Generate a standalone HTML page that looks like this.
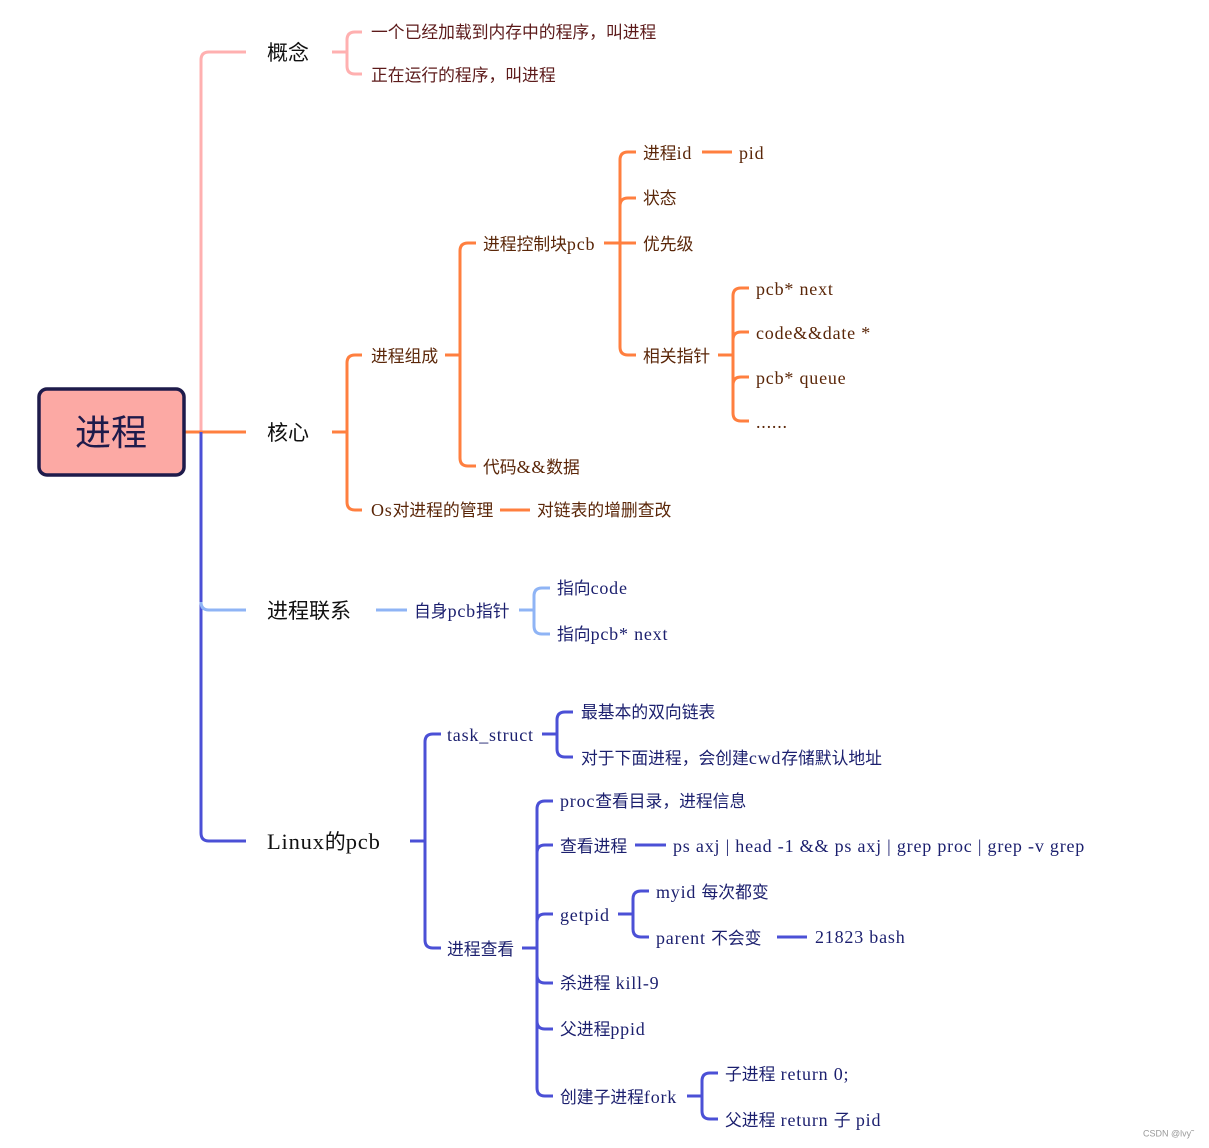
<!DOCTYPE html>
<html><head><meta charset="utf-8"><style>
html,body{margin:0;padding:0;background:#fff;width:1209px;height:1148px;overflow:hidden}
svg text{font-family:"Liberation Serif","Noto Sans CJK SC",serif;dominant-baseline:middle}
.l{font-size:18px;letter-spacing:0.8px}
.L{font-size:22.5px;letter-spacing:0.8px}
</style></head><body>
<svg width="1209" height="1148" viewBox="0 0 1209 1148" xmlns="http://www.w3.org/2000/svg">
<g fill="none" stroke-width="3" stroke-linecap="butt">
<path d="M246,52 H209 Q201,52 201,60 V432" stroke="#ffb0b0"/>
<path d="M185,432 H246" stroke="#ff7f3f"/>
<path d="M201,432 V833 Q201,841 209,841 H246" stroke="#4b50d6"/>
<path d="M201,602 Q201,610 209,610 H246" stroke="#8fb4f5"/>
<g stroke="#ffb0b0"><path d="M332,52 H347"/><path d="M362,32 H355 Q347,32 347,40 V66 Q347,74 355,74 H362"/></g>
<g stroke="#ff7f3f">
<path d="M332,432 H347"/><path d="M362,355 H355 Q347,355 347,363 V502 Q347,510 355,510 H362"/>
<path d="M500,510 H530"/>
<path d="M445,355 H460"/><path d="M476,243 H468 Q460,243 460,251 V458 Q460,466 468,466 H476"/>
<path d="M604,243 H636"/><path d="M636,152 H628 Q620,152 620,160 V347 Q620,355 628,355 H636"/>
<path d="M636,198 H628 Q620,198 620,206"/>
<path d="M702,152 H732"/>
<path d="M718,355 H733"/><path d="M749,288 H741 Q733,288 733,296 V413 Q733,421 741,421 H749"/>
<path d="M749,332 H741 Q733,332 733,340"/><path d="M749,377 H741 Q733,377 733,385"/>
</g>
<g stroke="#8fb4f5">
<path d="M376,610 H407"/><path d="M519,610 H534"/>
<path d="M550,588 H542 Q534,588 534,596 V626 Q534,634 542,634 H550"/>
</g>
<g stroke="#4b50d6">
<path d="M410,841 H425"/><path d="M441,734 H433 Q425,734 425,742 V940 Q425,948 433,948 H441"/>
<path d="M542,734 H557"/><path d="M573,712 H565 Q557,712 557,720 V749 Q557,757 565,757 H573"/>
<path d="M522,948 H537"/><path d="M553,801 H545 Q537,801 537,809 V1088 Q537,1096 545,1096 H553"/>
<path d="M553,845 H545 Q537,845 537,853"/><path d="M553,914 H545 Q537,914 537,922"/>
<path d="M553,983 H545 Q537,983 537,975"/><path d="M553,1029 H545 Q537,1029 537,1021"/>
<path d="M635,845 H666"/>
<path d="M618,914 H633"/><path d="M649,891 H641 Q633,891 633,899 V929 Q633,937 641,937 H649"/>
<path d="M777,937 H807"/>
<path d="M687,1096 H702"/><path d="M718,1073 H710 Q702,1073 702,1081 V1111 Q702,1119 710,1119 H718"/>
</g>
</g>
<rect x="39" y="389" width="145" height="86" rx="8" fill="#fca9a4" stroke="#1e1b4b" stroke-width="3.5"/>
<text x="111" y="435" font-size="36" fill="#1e1b4b" text-anchor="middle" style="font-family:'Noto Sans CJK SC',sans-serif">进程</text>
<g font-size="21" fill="#111">
<text x="267" y="55">概念</text><text x="267" y="435">核心</text><text x="267" y="613">进程联系</text><text x="267" y="844"><tspan class="L">Linux</tspan>的<tspan class="L">pcb</tspan></text>
</g>
<g font-size="16.8" fill="#5c1a1a">
<text x="371" y="34">一个已经加载到内存中的程序，叫进程</text>
<text x="371" y="77">正在运行的程序，叫进程</text>
</g>
<g font-size="16.8" fill="#5a2608">
<text x="371" y="358">进程组成</text><text x="371" y="512"><tspan class="l">Os</tspan>对进程的管理</text><text x="537" y="512">对链表的增删查改</text>
<text x="483" y="246">进程控制块<tspan class="l">pcb</tspan></text><text x="483" y="469">代码<tspan class="l">&amp;&amp;</tspan>数据</text>
<text x="643" y="155">进程<tspan class="l">id</tspan></text><text x="739" y="155" class="l">pid</text>
<text x="643" y="200">状态</text><text x="643" y="246">优先级</text><text x="643" y="358">相关指针</text>
<text x="756" y="291" class="l">pcb* next</text><text x="756" y="335" class="l">code&amp;&amp;date *</text><text x="756" y="380" class="l">pcb* queue</text><text x="756" y="424" class="l">......</text>
</g>
<g font-size="16.8" fill="#1b1f6e">
<text x="414" y="613">自身<tspan class="l">pcb</tspan>指针</text><text x="557" y="590">指向<tspan class="l">code</tspan></text><text x="557" y="636">指向<tspan class="l">pcb* next</tspan></text>
<text x="447" y="737" class="l">task_struct</text><text x="447" y="951">进程查看</text>
<text x="581" y="714">最基本的双向链表</text><text x="581" y="760">对于下面进程，会创建<tspan class="l">cwd</tspan>存储默认地址</text>
<text x="560" y="803"><tspan class="l">proc</tspan>查看目录，进程信息</text>
<text x="560" y="848">查看进程</text><text x="673" y="848" class="l">ps axj | head -1 &amp;&amp; ps axj | grep proc | grep -v grep</text>
<text x="560" y="917" class="l">getpid</text><text x="656" y="894"><tspan class="l">myid </tspan>每次都变</text><text x="656" y="940"><tspan class="l">parent </tspan>不会变</text><text x="815" y="939" class="l">21823 bash</text>
<text x="560" y="985">杀进程<tspan class="l"> kill-9</tspan></text><text x="560" y="1031">父进程<tspan class="l">ppid</tspan></text>
<text x="560" y="1099">创建子进程<tspan class="l">fork</tspan></text><text x="725" y="1076">子进程<tspan class="l"> return 0;</tspan></text><text x="725" y="1122">父进程<tspan class="l">  return  </tspan>子<tspan class="l"> pid</tspan></text>
</g>
<text x="1143" y="1134" font-size="9" fill="#999" style="font-family:'Liberation Sans',sans-serif">CSDN @lvy˜</text>
</svg>
</body></html>
